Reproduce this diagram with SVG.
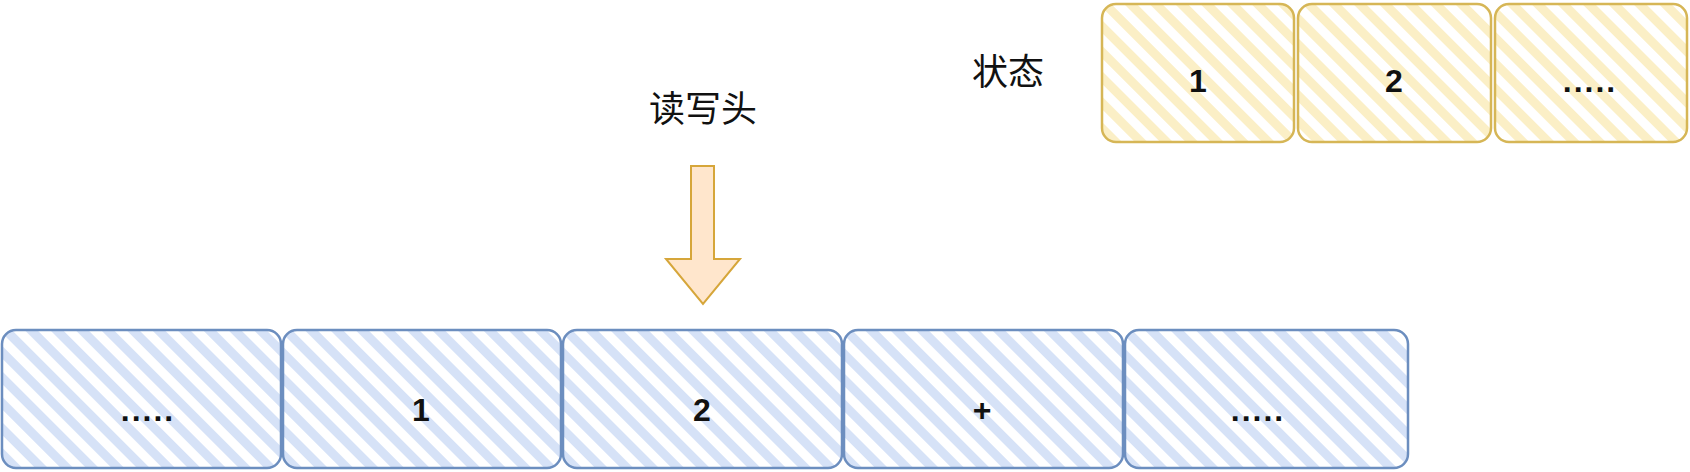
<svg xmlns="http://www.w3.org/2000/svg" width="1690" height="472" viewBox="0 0 1690 472">
<defs>
<pattern id="hb" width="18" height="18" patternUnits="userSpaceOnUse" patternTransform="rotate(-45)">
<rect width="18" height="18" fill="#ffffff"/>
<rect x="0" y="0" width="9" height="18" fill="#d6e2f7"/>
</pattern>
<pattern id="hy" width="18" height="18" patternUnits="userSpaceOnUse" patternTransform="rotate(-45)">
<rect width="18" height="18" fill="#ffffff"/>
<rect x="0" y="0" width="9" height="18" fill="#fbefc6"/>
</pattern>
</defs>
<style>
.b{fill:url(#hb);stroke:#6c8ebf;stroke-width:2.5}
.y{fill:url(#hy);stroke:#d6b656;stroke-width:2.5}
.t{font-family:"Liberation Sans","Noto Sans CJK SC",sans-serif;font-size:32px;fill:#111;text-anchor:middle}
.c{font-family:"Noto Sans CJK SC",sans-serif;font-size:36px;fill:#111;text-anchor:middle}
.n{font-weight:bold}
.d{letter-spacing:2px}
</style>
<rect width="1690" height="472" fill="#ffffff"/>
<g id="state-label"><text class="c" x="1008" y="85">状态</text></g>
<g id="s1"><rect class="y" x="1102" y="4" width="192" height="138" rx="14"/><text class="t n" x="1198" y="92">1</text></g>
<g id="s2"><rect class="y" x="1298" y="4" width="193" height="138" rx="14"/><text class="t n" x="1394" y="92">2</text></g>
<g id="s3"><rect class="y" x="1495" y="4" width="192" height="138" rx="14"/><text class="t n d" x="1590" y="92">.....</text></g>
<g id="head-label"><text class="c" x="703" y="122">读写头</text></g>
<g id="connectors">
<path d="M691 166 H714 V259 H740 L703 304 L666 259 H691 Z" fill="#ffe6cc" stroke="#d6a63a" stroke-width="2" stroke-linejoin="miter"/>
</g>
<g id="c1"><rect class="b" x="2" y="330" width="279" height="138" rx="14"/><text class="t n d" x="148" y="421">.....</text></g>
<g id="c2"><rect class="b" x="283" y="330" width="278" height="138" rx="14"/><text class="t n" x="421" y="421">1</text></g>
<g id="c3"><rect class="b" x="563" y="330" width="279" height="138" rx="14"/><text class="t n" x="702" y="421">2</text></g>
<g id="c4"><rect class="b" x="844" y="330" width="279" height="138" rx="14"/><text class="t n" x="982" y="421">+</text></g>
<g id="c5"><rect class="b" x="1125" y="330" width="283" height="138" rx="14"/><text class="t n d" x="1258" y="421">.....</text></g>
</svg>
